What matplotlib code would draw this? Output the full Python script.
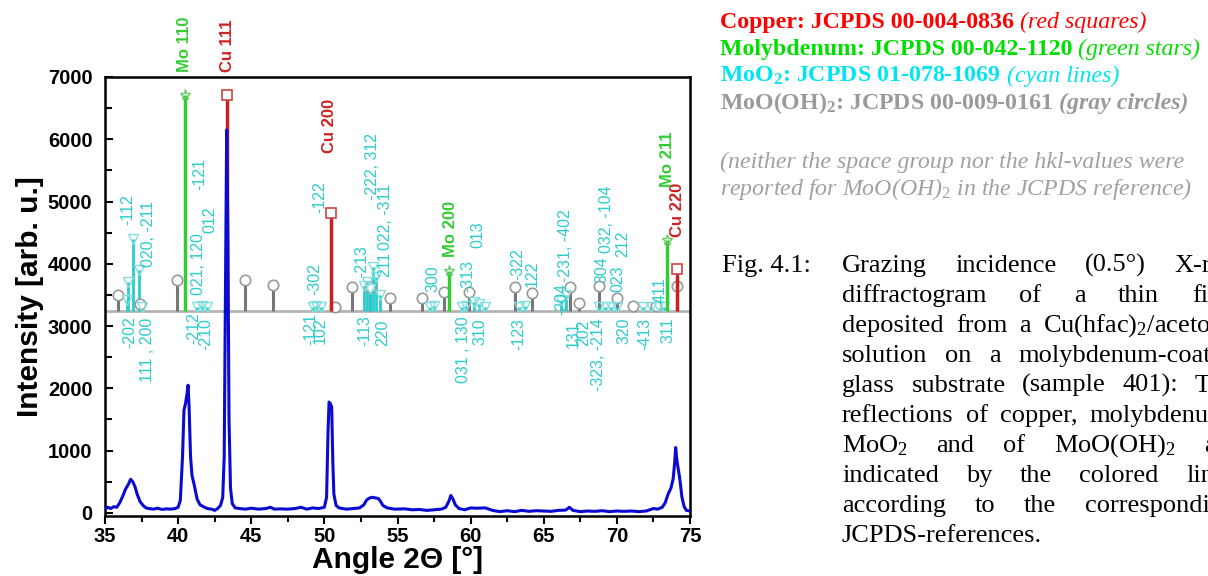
import matplotlib
matplotlib.use('Agg')
import matplotlib.pyplot as plt
from matplotlib.ticker import MultipleLocator

plt.rcParams['font.family'] = ['Liberation Sans', 'DejaVu Sans']
plt.rcParams['mathtext.fontset'] = 'custom'
plt.rcParams['mathtext.rm'] = 'Liberation Serif'
plt.rcParams['mathtext.it'] = 'Liberation Serif:italic'
plt.rcParams['mathtext.bf'] = 'Liberation Serif:bold'

two_theta = [35.0, 35.2, 35.4, 35.6, 35.8, 36.0, 36.2, 36.4, 36.6, 36.75, 36.9, 37.05, 37.2, 37.4, 37.6,
             37.8, 38.0, 38.3, 38.6, 38.9, 39.2, 39.5, 39.8, 40.0, 40.15, 40.3, 40.4, 40.5, 40.6, 40.68,
             40.75, 40.85, 40.95, 41.1, 41.3, 41.5, 41.8, 42.0, 42.3, 42.5, 42.7, 42.9, 43.05, 43.15, 43.25,
             43.32, 43.4, 43.48, 43.58, 43.7, 43.9, 44.2, 44.6, 45.0, 45.5, 46.0, 46.3, 46.6, 47.0, 47.5,
             48.0, 48.4, 48.8, 49.2, 49.6, 50.0, 50.15, 50.25, 50.32, 50.4, 50.5, 50.58, 50.65, 50.8, 51.0,
             51.5, 52.0, 52.4, 52.7, 52.9, 53.1, 53.3, 53.5, 53.7, 53.85, 54.0, 54.3, 54.8, 55.5, 56.0,
             56.5, 57.0, 57.5, 58.0, 58.3, 58.5, 58.65, 58.8, 58.95, 59.2, 59.6, 60.0, 60.4, 61.0, 61.5,
             62.0, 62.5, 63.0, 63.5, 64.0, 64.5, 65.0, 65.5, 66.0, 66.5, 66.75, 67.0, 67.5, 68.0, 68.5,
             69.0, 69.5, 70.0, 70.5, 71.0, 71.5, 72.0, 72.5, 72.8, 73.1, 73.3, 73.5, 73.7, 73.85, 73.95,
             74.02, 74.1, 74.2, 74.3, 74.45, 74.6, 74.75, 75.0]
intensity = [60, 90, 70, 100, 90, 160, 260, 380, 460, 540, 500, 420, 300, 180, 120,
             80, 70, 60, 75, 55, 65, 60, 70, 90, 200, 900, 1650, 1750, 1900, 2050,
             1700, 900, 600, 450, 220, 130, 90, 70, 60, 40, 70, 120, 250, 900, 4000,
             6150, 4500, 1500, 400, 150, 80, 70, 60, 75, 60, 70, 90, 60, 65, 60,
             70, 90, 60, 80, 70, 90, 250, 1300, 1780, 1760, 1700, 800, 300, 120, 80,
             60, 70, 80, 130, 210, 240, 250, 240, 230, 180, 120, 80, 60, 65, 50,
             55, 40, 50, 60, 90, 180, 280, 220, 130, 70, 50, 80, 75, 80, 40,
             20, 35, 20, 40, 25, 35, 30, 25, 40, 45, 90, 40, 20, 30, 25,
             35, 20, 30, 25, 30, 20, 30, 70, 60, 90, 160, 300, 400, 550, 800,
             1050, 850, 700, 550, 250, 100, 40, 30]

baseline = 3250

# Cu (JCPDS 00-004-0836)
cu_pos = [43.35, 50.45, 74.1]
cu_top = [6710, 4820, 3920]
cu_labels = ['Cu 111', 'Cu 200', 'Cu 220']
cu_label_pos = [(43.41, 7080), (50.38, 5780), (74.15, 4430)]

# Mo (JCPDS 00-042-1120)
mo_pos = [40.5, 58.55, 73.45]
mo_top = [6710, 3890, 4380]
mo_labels = ['Mo 110', 'Mo 200', 'Mo 211']
mo_label_pos = [(40.47, 7080), (58.59, 4110), (73.45, 5235)]

# MoO2 (JCPDS 01-078-1069)
moo2_pos = [36.5, 36.6, 36.9, 37.3, 37.5, 41.3, 41.6, 42.0, 49.2, 49.4, 49.8, 52.7, 52.9, 53.1,
            53.3, 53.5, 53.8, 57.2, 57.5, 59.4, 59.7, 60.2, 60.6, 61.0, 63.3, 63.7, 66.2, 66.5,
            68.8, 69.2, 69.6, 70.0, 71.8, 72.3, 72.8, 73.2]
moo2_top = [3420, 3700, 4400, 3900, 3300, 3300, 3320, 3300, 3300, 3330, 3310, 3650, 3700, 3600,
            3950, 3790, 3500, 3300, 3330, 3300, 3330, 3380, 3360, 3300, 3300, 3330, 3400, 3500,
            3300, 3310, 3300, 3300, 3300, 3300, 3330, 3300]

# MoO(OH)2 (JCPDS 00-009-0161)
oh_pos = [35.9, 37.4, 39.9, 44.6, 46.5, 50.7, 51.9, 53.1, 54.5, 56.7, 58.2, 59.9, 63.0, 64.2,
          66.8, 67.4, 68.8, 70.0, 71.1, 72.7, 74.1]
oh_top = [3500, 3350, 3740, 3740, 3660, 3300, 3630, 3630, 3450, 3450, 3550, 3550, 3630, 3530,
          3630, 3370, 3640, 3450, 3320, 3320, 3640]

# hkl labels of MoO2: (angle, intensity, text)
hkl_above = [(36.57, 4620, '-112'), (38.0, 3950, '020, -211'), (41.5, 5190, '-121'),
             (41.36, 3500, '021, 120'), (42.18, 4500, '012'), (49.36, 3500, '-302'),
             (49.7, 4820, '-122'), (52.57, 3790, '-213'), (53.26, 5030, '-222, 312'),
             (54.15, 3790, '211'), (54.15, 4220, '022, -311'), (57.43, 3550, '300'),
             (59.82, 3550, '-313'), (60.5, 4250, '013'), (63.24, 3740, '-322'), (64.2, 3630, '122'),
             (66.52, 3710, '-231, -402'), (68.98, 3690, '304'), (69.32, 4175, '032, -104'),
             (70.08, 3550, '023'), (70.42, 4110, '212'), (72.95, 3370, '411')]
hkl_below = [(36.71, 3150, '-202'), (37.94, 3130, '111 , 200'), (41.1, 3230, '-212'),
             (41.9, 3130, '-210'), (49.1, 3210, '-121'), (49.75, 3130, '102'), (52.78, 3180, '-113'),
             (54.01, 3100, '220'), (59.48, 3150, '031 , 130'), (60.64, 3130, '310'),
             (63.31, 3130, '-123'), (66.25, 3690, '-204'), (67.0, 3070, '131'), (67.72, 3100, '202'),
             (68.71, 3130, '-323, -214'), (70.49, 3130, '320'), (71.92, 3130, '-413'), (73.5, 3130, '311')]

legend_heads = ['Copper: JCPDS 00-004-0836', 'Molybdenum: JCPDS 00-042-1120',
                r'MoO$_\mathbf{2}$: JCPDS 01-078-1069', r'MoO(OH)$_\mathbf{2}$: JCPDS 00-009-0161']
legend_notes = ['(red squares)', '(green stars)', '(cyan lines)', '(gray circles)']
legend_colors = ['#ff0000', '#00e000', '#00e6f0', '#9a9a9a']
legend_note_weight = ['normal', 'normal', 'normal', 'bold']
remark_lines = ['(neither the space group nor the hkl-values were',
                r'reported for MoO(OH)$_\mathit{2}$ in the JCPDS reference)']
caption_lines = ['Grazing incidence (0.5°) X-ray',
                 'diffractogram of a thin film',
                 r'deposited from a Cu(hfac)$_2$/acetone',
                 'solution on a molybdenum-coated',
                 'glass substrate (sample 401): The',
                 'reflections of copper, molybdenum,',
                 r'MoO$_2$ and of MoO(OH)$_2$ are',
                 'indicated by the colored lines',
                 'according to the corresponding',
                 'JCPDS-references.']

W, H = 1208, 576
fig = plt.figure(figsize=(W / 100, H / 100), dpi=100)


def fx(px):
    return px / W


def fy(py):
    return 1 - py / H


ax = fig.add_axes([fx(105), fy(516), fx(690) - fx(105), fy(77) - fy(516)])

cyan = '#2ccccc'
ax.axhline(baseline, color='#b4b4b4', lw=2, zorder=1)
ax.vlines(oh_pos, baseline, oh_top, color='#777777', lw=2.2, zorder=2)
ax.plot(oh_pos, oh_top, 'o', ms=7.5, mfc='white', mec='#999999', mew=1.2, zorder=3)
ax.vlines(moo2_pos, baseline, moo2_top, color=cyan, lw=2, zorder=2)
ax.plot(moo2_pos, moo2_top, 'v', ms=7, mfc='none', mec='#80e0e0', mew=1, zorder=3)
ax.vlines(mo_pos, baseline, mo_top, color='#33cc33', lw=2.5, zorder=4)
ax.plot(mo_pos, mo_top, '*', ms=8, mfc='none', mec='#66cc66', mew=1, zorder=5)
ax.vlines(cu_pos, baseline, cu_top, color='#cc1f1f', lw=2.5, zorder=4)
ax.plot(cu_pos, cu_top, 's', ms=7, mfc='white', mec='#cc4444', mew=1.2, zorder=5, clip_on=False)
ax.plot(two_theta, intensity, color='#0a0ad0', lw=2.2, zorder=6)

for x, y, s in hkl_above:
    ax.text(x, y, s, rotation=90, ha='center', va='bottom', color=cyan, fontsize=11.5, zorder=7)
for x, y, s in hkl_below:
    ax.text(x, y, s, rotation=90, ha='center', va='top', color=cyan, fontsize=11.5, zorder=7)
for (x, y), s in zip(cu_label_pos, cu_labels):
    ax.text(x, y, s, rotation=90, ha='center', va='bottom', color='#cc2222', fontsize=12,
            fontweight='bold', zorder=7)
for (x, y), s in zip(mo_label_pos, mo_labels):
    ax.text(x, y, s, rotation=90, ha='center', va='bottom', color='#33cc33', fontsize=12,
            fontweight='bold', zorder=7)

ax.set_xlim(35, 75)
ax.set_ylim(-50, 7000)
ax.xaxis.set_major_locator(MultipleLocator(5))
ax.xaxis.set_minor_locator(MultipleLocator(2.5))
ax.yaxis.set_major_locator(MultipleLocator(1000))
ax.yaxis.set_minor_locator(MultipleLocator(500))
ax.tick_params(axis='x', which='both', direction='out', width=1.5, labelsize=14.5, pad=2)
ax.tick_params(axis='x', which='major', length=6)
ax.tick_params(axis='x', which='minor', length=4)
ax.tick_params(axis='y', which='both', direction='in', width=1.5, labelsize=14.5, pad=9)
ax.tick_params(axis='y', which='major', length=6)
ax.tick_params(axis='y', which='minor', length=5)
for lab in ax.get_xticklabels() + ax.get_yticklabels():
    lab.set_fontweight('bold')
for sp in ax.spines.values():
    sp.set_linewidth(1.8)
ax.set_xlabel('Angle 2Θ [°]', fontsize=21.5, fontweight='bold', labelpad=0)
ax.set_ylabel('Intensity [arb. u.]', fontsize=21.5, fontweight='bold', labelpad=3)

# right-hand text block
renderer = fig.canvas.get_renderer()
serif = ['Liberation Serif', 'DejaVu Serif']
for i, (head, note) in enumerate(zip(legend_heads, legend_notes)):
    yb = fy(28 + 27 * i)
    t = fig.text(fx(720), yb, head, color=legend_colors[i], fontsize=17.2, fontweight='bold',
                 family=serif, va='baseline')
    w = t.get_window_extent(renderer).width
    fig.text(fx(720 + w + 6), yb, note, color=legend_colors[i], fontsize=17.2, style='italic',
             fontweight=legend_note_weight[i], family=serif, va='baseline')
for i, line in enumerate(remark_lines):
    fig.text(fx(720), fy(168 + 27 * i), line, color='#a0a0a0', fontsize=17.2, style='italic',
             family=serif, va='baseline')

fig.text(fx(722), fy(272), 'Fig. 4.1:', fontsize=19, family=serif, va='baseline')
left, right = 842, 1236
for i, line in enumerate(caption_lines):
    yb = fy(272 + 30 * i)
    words = line.split(' ')
    texts = [fig.text(0, yb, w, fontsize=19, family=serif, va='baseline') for w in words]
    widths = [t.get_window_extent(renderer).width for t in texts]
    if i == len(caption_lines) - 1 or len(words) == 1:
        gap = 6.5
    else:
        gap = (right - left - sum(widths)) / (len(words) - 1)
    x = left
    for t, w in zip(texts, widths):
        t.set_x(fx(x))
        x += w + gap

fig.savefig('out.png', dpi=100)
